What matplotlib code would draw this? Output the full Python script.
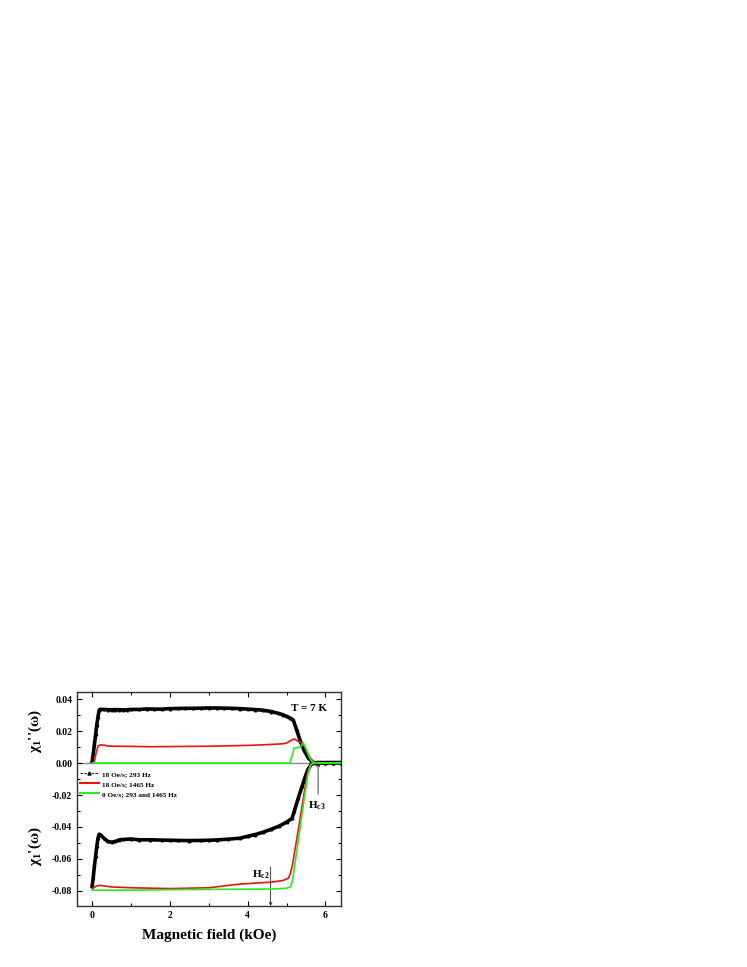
import matplotlib
matplotlib.use("Agg")
import matplotlib.pyplot as plt
from matplotlib.lines import Line2D
from matplotlib.ticker import MultipleLocator

plt.rcParams['font.family'] = ['Liberation Serif', 'DejaVu Serif']
plt.rcParams['font.weight'] = 'bold'
plt.rcParams['mathtext.fontset'] = 'custom'
plt.rcParams['mathtext.rm'] = 'Liberation Serif:bold'
plt.rcParams['mathtext.it'] = 'Liberation Serif:italic:bold'
plt.rcParams['mathtext.bf'] = 'Liberation Serif:bold'

# ---- data (field in kOe) ----
black_im_x = [0.0, 0.03, 0.06, 0.09, 0.12, 0.15, 0.18, 0.2, 0.3, 0.4, 0.5, 0.6, 0.7, 0.8, 0.9, 1.0,
              1.2, 1.4, 1.6, 1.8, 2.0, 2.2, 2.4, 2.6, 2.8, 3.0, 3.2, 3.4, 3.6, 3.8, 4.0, 4.2, 4.4,
              4.6, 4.8, 4.9, 5.0, 5.1, 5.17, 5.26, 5.35, 5.45, 5.55, 5.65, 5.72, 5.8, 6.0, 6.2, 6.4]
black_im_y = [0.001, 0.006, 0.012, 0.018, 0.024, 0.029, 0.033, 0.0335, 0.0335, 0.0333, 0.0333, 0.0334,
              0.0333, 0.0332, 0.0333, 0.0335, 0.0335, 0.0338, 0.0337, 0.0337, 0.0340, 0.0341, 0.0342,
              0.0342, 0.0343, 0.0344, 0.0344, 0.0343, 0.0342, 0.0340, 0.0337, 0.0334, 0.0330, 0.0322,
              0.0310, 0.0302, 0.0292, 0.0280, 0.0270, 0.0206, 0.0140, 0.0080, 0.0035, 0.0008, 0.0002,
              0.0001, 0.0001, 0.0001, 0.0001]

black_re_x = [0.0, 0.03, 0.06, 0.09, 0.12, 0.15, 0.18, 0.22, 0.3, 0.4, 0.5, 0.6, 0.7, 0.8, 1.0, 1.2,
              1.5, 1.8, 2.0, 2.2, 2.5, 2.8, 3.0, 3.2, 3.5, 3.8, 4.0, 4.2, 4.4, 4.6, 4.8, 5.0, 5.14,
              5.2, 5.3, 5.4, 5.48, 5.55, 5.65, 5.8, 6.0, 6.2, 6.4]
black_re_y = [-0.077, -0.071, -0.064, -0.058, -0.052, -0.047, -0.0445, -0.045, -0.047, -0.049, -0.0495,
              -0.049, -0.048, -0.0478, -0.0475, -0.048, -0.048, -0.0482, -0.0483, -0.0484, -0.0485,
              -0.0484, -0.0483, -0.0481, -0.0476, -0.047, -0.0458, -0.0447, -0.0432, -0.0415, -0.0395,
              -0.037, -0.0346, -0.030, -0.022, -0.0145, -0.0086, -0.004, -0.0002, 0.0003, 0.0003,
              0.0003, 0.0003]

red_im_x = [0.0, 0.05, 0.1, 0.15, 0.2, 0.3, 0.4, 0.6, 1.0, 1.5, 2.0, 3.0, 4.0, 4.5, 4.9, 5.0, 5.1,
            5.2, 5.3, 5.4, 5.5, 5.6, 5.7, 5.8, 6.0, 6.4]
red_im_y = [0.0, 0.0005, 0.006, 0.0105, 0.0113, 0.0112, 0.0106, 0.0105, 0.0104, 0.0102, 0.0103, 0.0105,
            0.0110, 0.0115, 0.0120, 0.0125, 0.0140, 0.0150, 0.0135, 0.0126, 0.0085, 0.0035, 0.0006,
            0.0, 0.0, 0.0]

red_re_x = [0.0, 0.1, 0.2, 0.5, 1.0, 2.0, 3.0, 3.8, 4.6, 4.9, 5.05, 5.1, 5.15, 5.3, 5.45, 5.55, 5.62,
            5.7, 6.0, 6.4]
red_re_y = [-0.0785, -0.077, -0.0765, -0.0775, -0.078, -0.0785, -0.078, -0.0757, -0.0745, -0.0735,
            -0.072, -0.069, -0.064, -0.042, -0.019, -0.005, -0.001, 0.0, 0.0, 0.0]

green_im_x = [0.0, 1.0, 2.0, 3.0, 4.0, 5.0, 5.09, 5.19, 5.3, 5.36, 5.43, 5.5, 5.58, 5.65, 5.72, 6.0, 6.4]
green_im_y = [0.0, 0.0, 0.0, 0.0, 0.0, 0.0, 0.0, 0.0092, 0.0098, 0.0102, 0.0127, 0.0090, 0.0040, 0.0010,
              0.0, 0.0, 0.0]

green_re_x = [0.0, 1.0, 2.0, 3.0, 4.0, 4.6, 5.0, 5.1, 5.15, 5.3, 5.45, 5.55, 5.62, 5.7, 6.0, 6.4]
green_re_y = [-0.0795, -0.0795, -0.0792, -0.079, -0.0789, -0.0788, -0.0783, -0.0775, -0.074, -0.049,
              -0.023, -0.007, -0.001, 0.0, 0.0, 0.0]

legend_labels = ["18 Oe/s; 293 Hz", "18 Oe/s; 1465 Hz", "0 Oe/s; 293 and 1465 Hz"]

BLACK = '#000000'
RED = '#ee1111'
GREEN = '#22ee22'

fig = plt.figure(figsize=(7.47, 9.67), dpi=100)
ax = fig.add_axes([77 / 747, 1 - 906 / 967, 264 / 747, 214 / 967])

ax.axhline(0.0, color='#888888', lw=1.0, zorder=1)

for x, y in [(black_im_x, black_im_y), (black_re_x, black_re_y)]:
    ax.plot(x, y, color=BLACK, lw=2.6, marker='^', ms=1.8, mec=BLACK, mfc=BLACK, zorder=3)
ax.plot(red_im_x, red_im_y, color=RED, lw=1.2, zorder=4)
ax.plot(red_re_x, red_re_y, color=RED, lw=1.2, zorder=4)
ax.plot(green_im_x, green_im_y, color=GREEN, lw=1.2, zorder=5)
ax.plot(green_re_x, green_re_y, color=GREEN, lw=1.2, zorder=5)

ax.set_xlim(-0.39, 6.4)
ax.set_ylim(-0.0894, 0.0444)
ax.xaxis.set_major_locator(MultipleLocator(2))
ax.xaxis.set_minor_locator(MultipleLocator(1))
ax.yaxis.set_major_locator(MultipleLocator(0.02))
ax.yaxis.set_minor_locator(MultipleLocator(0.01))
ax.yaxis.set_major_formatter(matplotlib.ticker.FuncFormatter(lambda v, p: f"{v:.2f}"))
ax.tick_params(which='both', direction='in', top=True, right=True, labelsize=7, width=0.8)
ax.tick_params(which='major', length=3.5)
ax.tick_params(which='minor', length=2)
for lab in ax.get_xticklabels() + ax.get_yticklabels():
    lab.set_fontweight('bold')
for sp in ax.spines.values():
    sp.set_linewidth(1.0)
    sp.set_color('#333333')

ax.set_xlabel("Magnetic field (kOe)", fontsize=11, fontweight='bold', labelpad=6)

fig.text(35 / 747, 1 - 731 / 967, "χ$_{1}$''(ω)", rotation=90, ha='center', va='center',
         fontsize=11, fontweight='bold')
fig.text(35 / 747, 1 - 846 / 967, "χ$_{1}$'(ω)", rotation=90, ha='center', va='center',
         fontsize=11, fontweight='bold')

ax.text(6.05, 0.034, "T = 7 K", ha='right', va='center', fontsize=8, fontweight='bold')

ax.annotate('', xy=(5.81, 0.0), xytext=(5.81, -0.0195),
            arrowprops=dict(arrowstyle='->', lw=0.6, color='#222222', shrinkA=0, shrinkB=0,
                            mutation_scale=5))
ax.text(5.78, -0.027, "H$_{\\rm c3}$", ha='center', va='center', fontsize=8, fontweight='bold')

ax.annotate('', xy=(4.59, -0.0894), xytext=(4.59, -0.065),
            arrowprops=dict(arrowstyle='->', lw=0.6, color='#222222', shrinkA=0, shrinkB=0,
                            mutation_scale=5))
ax.text(4.34, -0.070, "H$_{\\rm c2}$", ha='center', va='center', fontsize=8, fontweight='bold')

handles = [Line2D([], [], color=BLACK, lw=0.6, marker='^', ms=2.2, ls='--', dashes=(3, 1.5)),
           Line2D([], [], color=RED, lw=1.5),
           Line2D([], [], color=GREEN, lw=1.5)]
leg = ax.legend(handles, legend_labels, loc='upper left', bbox_to_anchor=(0.0, 0.645),
                frameon=False, fontsize=5.2, handlelength=2.6, handletextpad=0.4,
                labelspacing=0.55, borderaxespad=0.2, borderpad=0.2)
for t in leg.get_texts():
    t.set_fontweight('bold')

fig.savefig("out.png", dpi=100)
